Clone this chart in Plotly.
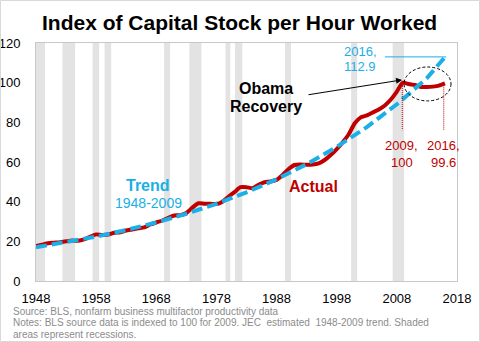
import plotly.graph_objects as go

# ---- data ----
years = list(range(1948, 2017))
actual = [17.6, 18.3, 19.0, 19.3, 19.6, 20.0, 20.4, 20.3, 21.0, 22.3,
          23.5, 23.2, 23.4, 24.3, 24.6, 25.5, 26.0, 26.6, 27.0, 28.5,
          29.5, 30.5, 31.9, 33.0, 33.2, 34.3, 37.0, 39.2, 39.0, 38.9,
          38.8, 40.0, 42.5, 44.8, 47.3, 47.3, 46.8, 48.5, 49.8, 50.2,
          51.0, 53.5, 56.5, 58.5, 58.7, 58.6, 58.7, 59.3, 61.0, 63.5,
          66.5, 70.0, 74.0, 79.5, 82.5, 83.5, 85.0, 86.5, 88.5, 91.5,
          95.5, 100.0, 99.3, 98.8, 97.8, 97.8, 98.0, 98.5, 99.6]
trend_years = [1948, 1953, 1958, 1963, 1968, 1973, 1978, 1983, 1988, 1993,
               1998, 2003, 2008, 2013, 2016]
trend = [17.0, 19.5, 22.4, 25.7, 29.5, 33.9, 38.9, 44.7, 51.3, 58.9,
         67.6, 77.6, 89.1, 102.3, 112.9]
recessions = [(1948.0, 1949.5), (1952.4, 1954.5), (1957.4, 1958.5), (1959.4, 1960.5),
              (1969.3, 1970.3), (1973.5, 1975.5), (1979.5, 1980.3), (1981.1, 1982.3),
              (1989.4, 1990.4), (2000.4, 2001.4), (2007.3, 2009.2)]
x_ticks = [1948, 1958, 1968, 1978, 1988, 1998, 2008, 2018]
y_ticks = [0, 20, 40, 60, 80, 100, 120]

RED = "#C00000"
BLUE = "#1AAFE6"
FONT = "Liberation Sans, Arial, sans-serif"

W, H = 480, 342
L, R, T, B = 36, 457, 43, 281


def px(x):
    return (x - L) / (R - L)


def py(y):
    return (B - y) / (B - T)


fig = go.Figure()
fig.add_trace(go.Scatter(x=years, y=actual, mode="lines",
                         line=dict(color=RED, width=4, shape="spline", smoothing=0.6),
                         hoverinfo="skip"))
fig.add_trace(go.Scatter(x=trend_years, y=trend, mode="lines",
                         line=dict(color=BLUE, width=4, dash="11px,5px"),
                         hoverinfo="skip"))

shapes = []
for a, b in recessions:
    shapes.append(dict(type="rect", xref="x", yref="paper", x0=a, x1=b, y0=0, y1=1,
                       fillcolor="#E3E3E3", line=dict(width=0), layer="below"))
# outer border
shapes.append(dict(type="rect", xref="paper", yref="paper",
                   x0=px(0.5), x1=px(479.5), y0=py(341.5), y1=py(0.5),
                   line=dict(color="#D9D9D9", width=1)))
# ellipse
shapes.append(dict(type="circle", xref="x", yref="y", x0=2009.2, x1=2017.0, y0=90.8, y1=107.9,
                   line=dict(color="#000000", width=1, dash="3px,2px")))
# red dotted drop lines
for xv, yv in [(2008.9, 99.3), (2015.8, 99.0)]:
    shapes.append(dict(type="line", xref="x", yref="y", x0=xv, x1=xv, y0=yv, y1=76,
                       line=dict(color=RED, width=1, dash="1px,1px")))
# blue leader
shapes.append(dict(type="line", xref="x", yref="y", x0=2006.0, x1=2016.2, y0=113, y1=113,
                   line=dict(color=BLUE, width=1)))

ann = []


def text(x, y, s, size, color, bold=False):
    ann.append(dict(xref="paper", yref="paper", x=px(x), y=py(y),
                    text=("<b>%s</b>" % s) if bold else s, showarrow=False,
                    xanchor="center", yanchor="middle",
                    font=dict(family=FONT, size=size, color=color)))


text(239, 22, "Index of Capital Stock per Hour Worked", 21, "#000000", True)
text(265.5, 88, "Obama", 16, "#000000", True)
text(265.5, 106.5, "Recovery", 16, "#000000", True)
text(360, 51, "2016,", 13, BLUE)
text(360, 66, "112.9", 13, BLUE)
text(401.5, 145, "2009,", 13, RED)
text(401.5, 162, "100", 13, RED)
text(443, 145, "2016,", 13, RED)
text(443, 162, "99.6", 13, RED)
text(148, 185, "Trend", 16, BLUE, True)
text(148, 202.5, "1948-2009", 14, BLUE)
text(313, 186, "Actual", 16, RED, True)

notes = ["Source: BLS, nonfarm business multifactor productivity data",
         "Notes: BLS source data is indexed to 100 for 2009. JEC  estimated  1948-2009 trend. Shaded",
         "areas represent recessions."]
for i, s in enumerate(notes):
    ann.append(dict(xref="paper", yref="paper", x=px(11), y=py(311 + 11.5 * i), text=s,
                    showarrow=False, xanchor="left", yanchor="middle",
                    font=dict(family=FONT, size=10, color="#8C8C8C")))

# arrow
ann.append(dict(xref="x", yref="y", axref="x", ayref="y", x=2008.86, y=101.4,
                ax=1993.06, ay=93.8, text="", showarrow=True, arrowhead=2,
                arrowsize=1.2, arrowwidth=1, arrowcolor="#000000", standoff=0))

fig.update_layout(
    width=W, height=H, margin=dict(l=L, r=W - R, t=T, b=H - B, pad=0, autoexpand=False),
    paper_bgcolor="white", plot_bgcolor="white", showlegend=False,
    shapes=shapes, annotations=ann,
    font=dict(family=FONT, size=13, color="#000000"),
    xaxis=dict(range=[1948, 2018], tickvals=x_ticks, showgrid=False, zeroline=False,
               showline=True, linecolor="#C8C8C8", linewidth=1, mirror=True, automargin=False,
               ticks="", ticklabelstandoff=5, tickfont=dict(size=13, color="#000000")),
    yaxis=dict(range=[0, 120], tickvals=y_ticks, showgrid=False, zeroline=False,
               showline=True, linecolor="#C8C8C8", linewidth=1, mirror=True, automargin=False,
               ticks="", ticklabelstandoff=12, tickfont=dict(size=13, color="#000000")),
)

fig.write_html("out.html")
